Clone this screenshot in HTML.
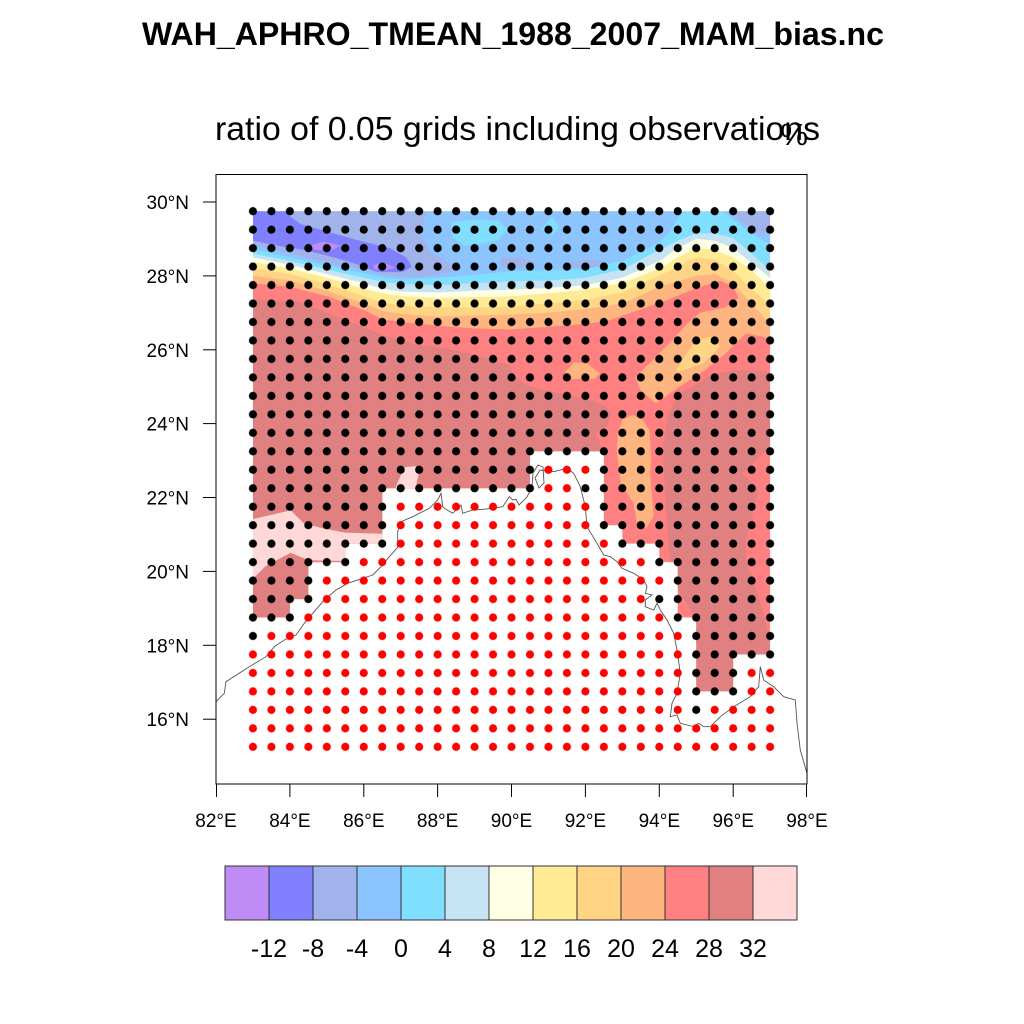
<!DOCTYPE html>
<html>
<head>
<meta charset="utf-8">
<style>
  html, body { margin: 0; padding: 0; background: #ffffff; }
  svg { display: block; }
  text { font-family: "Liberation Sans", Arial, sans-serif; fill: #000; }
</style>
</head>
<body>
<svg width="1024" height="1024" viewBox="0 0 1024 1024" xmlns="http://www.w3.org/2000/svg">
  <rect x="0" y="0" width="1024" height="1024" fill="#ffffff"/>
  <defs>
    <clipPath id="valid">
      <polygon points="0,0 28,0 28,24 26,24 26,26 24,26 24,22 23,22 23,19 22,19 22,18 20,18 20,17 19,17 19,13 15,13 15,15 7,15 7,18 5,18 5,19 3,19 3,21 2,21 2,22 0,22"/>
    </clipPath>
    <clipPath id="blk">
      <rect x="-0.5" y="-0.5" width="29" height="14"/>
      <rect x="-0.5" y="13.5" width="16" height="1"/><rect x="18.5" y="13.5" width="10" height="1"/>
      <rect x="-0.5" y="14.5" width="16" height="1"/><rect x="17.5" y="14.5" width="11" height="1"/>
      <rect x="-0.5" y="15.5" width="8" height="1"/><rect x="18.5" y="15.5" width="10" height="1"/>
      <rect x="-0.5" y="16.5" width="8" height="1"/><rect x="18.5" y="16.5" width="10" height="1"/>
      <rect x="-0.5" y="17.5" width="8" height="1"/><rect x="19.5" y="17.5" width="9" height="1"/>
      <rect x="-0.5" y="18.5" width="6" height="1"/><rect x="21.5" y="18.5" width="7" height="1"/>
      <rect x="-0.5" y="19.5" width="4" height="1"/><rect x="22.5" y="19.5" width="6" height="1"/>
      <rect x="-0.5" y="20.5" width="4" height="1"/><rect x="21.5" y="20.5" width="7" height="1"/>
      <rect x="-0.5" y="21.5" width="3" height="1"/><rect x="22.5" y="21.5" width="6" height="1"/>
      <rect x="-0.5" y="22.5" width="1" height="1"/><rect x="23.5" y="22.5" width="5" height="1"/>
      <rect x="23.5" y="23.5" width="5" height="1"/>
      <rect x="23.5" y="24.5" width="3" height="1"/>
      <rect x="23.5" y="25.5" width="3" height="1"/>
      <rect x="23.5" y="26.5" width="1" height="1"/>
    </clipPath>
    <clipPath id="red">
      <rect x="15.5" y="13.5" width="3" height="1"/>
      <rect x="15.5" y="14.5" width="2" height="1"/>
      <rect x="7.5" y="15.5" width="11" height="1"/>
      <rect x="7.5" y="16.5" width="11" height="1"/>
      <rect x="7.5" y="17.5" width="12" height="1"/>
      <rect x="5.5" y="18.5" width="16" height="1"/>
      <rect x="3.5" y="19.5" width="19" height="1"/>
      <rect x="3.5" y="20.5" width="18" height="1"/>
      <rect x="2.5" y="21.5" width="20" height="1"/>
      <rect x="0.5" y="22.5" width="23" height="1"/>
      <rect x="-0.5" y="23.5" width="24" height="1"/>
      <rect x="-0.5" y="24.5" width="24" height="1"/><rect x="26.5" y="24.5" width="2" height="1"/>
      <rect x="-0.5" y="25.5" width="24" height="1"/><rect x="26.5" y="25.5" width="2" height="1"/>
      <rect x="-0.5" y="26.5" width="24" height="1"/><rect x="24.5" y="26.5" width="4" height="1"/>
      <rect x="-0.5" y="27.5" width="29" height="1"/>
      <rect x="-0.5" y="28.5" width="29" height="1"/>
    </clipPath>
    <pattern id="pb" patternUnits="userSpaceOnUse" x="-0.5" y="-0.5" width="1" height="1">
      <circle cx="0.5" cy="0.5" r="0.22" fill="#000000"/>
    </pattern>
    <pattern id="pr" patternUnits="userSpaceOnUse" x="-0.5" y="-0.5" width="1" height="1">
      <circle cx="0.5" cy="0.5" r="0.22" fill="#ff0000"/>
    </pattern>
    <clipPath id="frame">
      <rect x="216" y="174" width="591" height="610"/>
    </clipPath>
  </defs>

  <!-- contour fill in grid coordinates -->
  <g transform="translate(252.94,211.2) scale(18.47)">
    <g clip-path="url(#valid)">
      <rect x="-1" y="-1" width="31" height="32" fill="#FF8080"/>
      <polygon fill="#E08080" points="-1,4.8 0,4.8 2.5,4.9 4.3,5.6 7,6.7 9.06,7.27 10.14,7.36 11.77,7.72 13.03,8.08 13.93,8.35 14.1,8.9 14.84,9.44 16.28,9.8 18.1,10.16 19.0,10.5 19.4,10.9 19.2,11.6 18.6,12.0 18.9,13.0 18.9,30 -1,30"/>
      <polygon fill="#E08080" points="23.1,9.9 24.9,8.8 26.3,8.6 28,8.7 29,8.7 29,12.6 28,12.75 26.5,14.2 27.4,15.1 26.7,17.8 26.7,18.9 27.4,20.9 28,23.2 29,23.4 29,30 24,30 24,22.1 22.9,20.3 22.5,18.3 22.3,15 22.2,12.7 22.5,10.9"/>
      <polygon fill="#FFD8D8" points="-1,16.67 0,16.67 2.04,16.2 2.76,16.9 3.9,17.2 5,17.4 8,17.5 8,19 3.05,18.9 2.04,18.5 0.7,19.2 0,19.9 -1,19.9"/>
      <polygon fill="#FFD8D8" points="7.7,15 8.2,13.86 8.8,13.8 9.0,14.1 8.8,15"/>
      <polygon fill="#FFB580" points="19.75,12.0 20.0,11.3 20.57,11.03 21.1,11.3 21.47,11.84 21.56,13.47 21.5,14.2 21.7,16.5 21.3,17.15 20.8,16.9 20.6,15.8 19.9,14.7 19.7,13"/>
      <polygon fill="#FFB580" points="16.9,8.7 17.4,8.17 18.1,8.26 18.8,8.8 18.45,9.08 17.0,9.08"/>
      <polygon fill="#FFB580" points="27.8,18.1 28.2,17.6 28.2,18.7"/>
      <polygon fill="#FFB580" points="-1,-1 -1,3.9 0,3.9 2,4.1 4,4.6 6,5.35 7,5.85 8,6.0 10,6.2 12,6.35 14,6.4 15.5,6.3 17.3,6.16 19.1,5.98 20.9,5.35 22.7,4.7 24,4.17 25.3,3.76 26,4.1 26.3,4.7 25.6,5.2 24.2,5.5 23.5,6.1 22.4,7.3 21.3,8.4 20.7,9.0 21.0,9.7 21.8,10.4 23.1,9.5 24.2,8.8 25.6,7.7 26.7,6.6 28,6.9 29,6.9 29,-1"/>
      <polygon fill="#FFD485" points="22.9,8.6 24.0,6.97 24.7,6.8 25.3,7.33 24.4,8.23 23.1,8.68"/>
      <polygon fill="#FFD485" points="-1,-1 -1,3.5 0,3.5 2,3.75 4,4.3 6,5.0 7,5.4 8,5.55 10,5.7 12,5.65 14,5.6 16,5.5 18,5.3 20,5.0 22,4.1 23,3.8 24,3.5 25,3.4 26,3.9 27,5.0 28,6.1 29,6.1 29,-1"/>
      <polygon fill="#FFEB96" points="-1,-1 -1,3.1 0,3.1 2,3.4 4,3.95 6,4.6 7,4.95 8,5.1 10,5.2 12,5.2 14,5.15 16,5.0 18,4.8 20,4.4 22,3.5 23,3.0 24,2.5 25,2.6 26,3.25 27,4.2 28,5.1 29,5.1 29,-1"/>
      <polygon fill="#FFFFE4" points="-1,-1 -1,2.75 0,2.75 2,3.1 4,3.6 6,4.2 7,4.45 8,4.6 10,4.7 12,4.65 14,4.6 16,4.45 18,4.25 20,3.9 22,3.1 23,2.5 24,2.0 25,2.1 26,2.5 27,3.2 28,4.2 29,4.2 29,-1"/>
      <polygon fill="#C6E3F4" points="-1,-1 -1,2.5 0,2.5 2,2.9 4,3.4 6,3.9 7,4.2 8,4.35 10,4.4 12,4.3 14,4.25 16,4.15 18,4.0 20,3.6 22,2.7 23,2.0 24,1.5 25,1.6 26,2.0 27,2.8 28,3.6 29,3.6 29,-1"/>
      <polygon fill="#80DEFF" points="-1,-1 -1,2.3 0,2.3 2,2.7 4,3.15 6,3.6 7,3.8 8,3.95 10,4.0 12,3.9 14,3.8 16,3.75 18,3.6 20,3.15 22,2.1 23,1.6 24,1.2 25,1.2 26,1.45 27,2.3 28,3.2 29,3.2 29,-1"/>
      <polygon fill="#8CC4FF" points="-1,-1 -1,2.05 0,2.05 2,2.5 4,2.95 6,3.35 7,3.6 8,3.7 10,3.6 12,3.45 14,3.25 16,3.2 18,3.15 20,2.7 22,1.7 22.5,1.2 23,0.4 23.3,-0.1 25.3,-0.1 26,0.45 27,1.2 28,1.8 29,1.8 29,-1"/>
      <polygon fill="#A0B4EB" points="-1,-1 9.4,-1 9.4,0 9.1,1.2 9.6,2.2 10.6,2.8 11.3,3.1 10.5,3.35 9,3.55 8,3.55 7,3.45 6,3.15 4,2.75 2,2.3 0,1.85 -1,1.85"/>
      <polygon fill="#8CC4FF" points="6.6,-0.1 7.2,-0.1 6.9,0.5"/>
      <polygon fill="#8080FF" points="-1,-1 1.9,-1 1.9,0.2 2.6,0.7 4.2,1.15 5.6,1.55 7.4,2.0 8.3,2.5 8.6,3.0 8.1,3.3 6.7,3.28 5.4,2.8 4.2,2.45 2.8,2.1 1.5,1.9 0,1.6 -1,1.6"/>
      <polygon fill="#BE8CF4" points="3.0,1.9 3.8,1.65 4.8,1.85 4.2,2.15 3.4,2.1"/>
      <polygon fill="#BE8CF4" points="6.5,2.95 7.0,2.75 7.7,3.05 7.2,3.2 6.6,3.15"/>
      <polygon fill="#80DEFF" points="10.7,0.6 12,0.45 13.3,0.5 13.8,1.0 13.2,1.6 11.5,1.9 10.8,1.4"/>
      <polygon fill="#80DEFF" points="15.6,1.0 16.2,0.3 16.6,0.9 16.2,1.3"/>
      <polygon fill="#80DEFF" points="20.8,-0.1 21.2,-0.1 21,0.3"/>
      <polygon fill="#A0B4EB" points="13.4,2.5 14.5,2.5 15.4,2.8 14.6,3.05 13.4,3.0"/>
      <polygon fill="#A0B4EB" points="16.9,2.8 18,2.6 19.1,2.7 18.5,3.05 17.2,3.0"/>
      <polygon fill="#A0B4EB" points="26,-1 29,-1 29,1.2 27.3,1.2 26.6,0.7 26,0.2"/>
    </g>
  </g>

  <g clip-path="url(#frame)">
    <path fill="none" stroke="#555555" stroke-width="0.9" d="M214,703 L216,701.7 L224.3,693.3 L226,681.7 L249.3,666.7 L266,656.7 L274.3,646.7 L284.3,640 L296,635 L304.3,623.3 L312.7,613.3 L324.3,600 L336,590 L347.7,583.3 L362.7,578.3 L372.7,575 L381,566.7 L389.3,556.7 L397.7,547.3 L397.7,531.7 L401,521.7 L412.7,516.7 L429.3,508.3 L437.7,500 L441,493.3 L442.7,506.7 L446,509.3 L452.7,513.3 L461,505 L462.7,513.3 L472.7,510 L482.7,509.3 L492.7,508.3 L502.7,506.7 L509.3,496.7 L512.7,500 L516,499.3 L519,505 L527,497 L532,487 L533,473 L538,465 L543,467 L544,483 L539,488 L535,478 L540,470 L553.7,471.7 L567,468.3 L573.7,473.3 L580.3,486.7 L585.3,506.7 L587,526.7 L597,543.3 L603.7,555 L610.3,556.7 L617,561.7 L622,568.3 L633.7,573.3 L643.7,580 L647,586.7 L645.3,593.3 L652,595 L645.3,600 L645.3,606.7 L653.7,610 L657,603.3 L660.3,610 L667,620 L673.7,633.3 L677,650 L680.3,673.3 L677,693.3 L672,703.3 L670.3,716.7 L677,715 L680.3,723.3 L693.7,726.7 L698.7,723.3 L703.7,726.7 L710.3,726.7 L720.3,716.7 L733.7,706.7 L750.3,696.7 L758.7,686.7 L760.3,666.7 L763.7,680 L773.7,686.7 L783.7,696.7 L795.3,700 L797,723.3 L800.3,750 L807,773.3 L809,780"/>
  </g>

  <g transform="translate(252.94,211.2) scale(18.47)">
    <rect x="-0.5" y="-0.5" width="29" height="30" fill="url(#pr)" clip-path="url(#red)"/>
    <rect x="-0.5" y="-0.5" width="29" height="30" fill="url(#pb)" clip-path="url(#blk)"/>
  </g>

  <rect x="216" y="174.5" width="591" height="609.5" fill="none" stroke="#000" stroke-width="1"/>

  <g stroke="#000" stroke-width="1">
    <line x1="203" y1="202" x2="216" y2="202"/>
    <line x1="203" y1="275.9" x2="216" y2="275.9"/>
    <line x1="203" y1="349.8" x2="216" y2="349.8"/>
    <line x1="203" y1="423.6" x2="216" y2="423.6"/>
    <line x1="203" y1="497.5" x2="216" y2="497.5"/>
    <line x1="203" y1="571.4" x2="216" y2="571.4"/>
    <line x1="203" y1="645.3" x2="216" y2="645.3"/>
    <line x1="203" y1="719.2" x2="216" y2="719.2"/>
    <line x1="216.5" y1="784" x2="216.5" y2="797"/>
    <line x1="289.9" y1="784" x2="289.9" y2="797"/>
    <line x1="363.8" y1="784" x2="363.8" y2="797"/>
    <line x1="437.6" y1="784" x2="437.6" y2="797"/>
    <line x1="511.5" y1="784" x2="511.5" y2="797"/>
    <line x1="585.4" y1="784" x2="585.4" y2="797"/>
    <line x1="659.3" y1="784" x2="659.3" y2="797"/>
    <line x1="733.2" y1="784" x2="733.2" y2="797"/>
    <line x1="806.5" y1="784" x2="806.5" y2="797"/>
  </g>

  <g font-size="19" text-anchor="end">
    <text x="189" y="209">30°N</text>
    <text x="189" y="282.9">28°N</text>
    <text x="189" y="356.8">26°N</text>
    <text x="189" y="430.6">24°N</text>
    <text x="189" y="504.5">22°N</text>
    <text x="189" y="578.4">20°N</text>
    <text x="189" y="652.3">18°N</text>
    <text x="189" y="726.2">16°N</text>
  </g>
  <g font-size="19" text-anchor="middle">
    <text x="216" y="827">82°E</text>
    <text x="289.9" y="827">84°E</text>
    <text x="363.8" y="827">86°E</text>
    <text x="437.6" y="827">88°E</text>
    <text x="511.5" y="827">90°E</text>
    <text x="585.4" y="827">92°E</text>
    <text x="659.3" y="827">94°E</text>
    <text x="733.2" y="827">96°E</text>
    <text x="807" y="827">98°E</text>
  </g>

  <text x="142" y="45" font-size="32" font-weight="bold" textLength="742" lengthAdjust="spacingAndGlyphs">WAH_APHRO_TMEAN_1988_2007_MAM_bias.nc</text>
  <text x="215" y="140" font-size="33" textLength="605" lengthAdjust="spacingAndGlyphs">ratio of 0.05 grids including observations</text>
  <text x="808" y="145" font-size="31" text-anchor="end">%</text>

  <g stroke="#333333" stroke-width="1">
    <rect x="225" y="866" width="44" height="54" fill="#BE8CF4"/>
    <rect x="269" y="866" width="44" height="54" fill="#8080FF"/>
    <rect x="313" y="866" width="44" height="54" fill="#A0B4EB"/>
    <rect x="357" y="866" width="44" height="54" fill="#8CC4FF"/>
    <rect x="401" y="866" width="44" height="54" fill="#80DEFF"/>
    <rect x="445" y="866" width="44" height="54" fill="#C6E3F4"/>
    <rect x="489" y="866" width="44" height="54" fill="#FFFFE4"/>
    <rect x="533" y="866" width="44" height="54" fill="#FFEB96"/>
    <rect x="577" y="866" width="44" height="54" fill="#FFD485"/>
    <rect x="621" y="866" width="44" height="54" fill="#FFB580"/>
    <rect x="665" y="866" width="44" height="54" fill="#FF8080"/>
    <rect x="709" y="866" width="44" height="54" fill="#E08080"/>
    <rect x="753" y="866" width="44" height="54" fill="#FFD8D8"/>
  </g>
  <g font-size="25" text-anchor="middle">
    <text x="269" y="957">-12</text>
    <text x="313" y="957">-8</text>
    <text x="357" y="957">-4</text>
    <text x="401" y="957">0</text>
    <text x="445" y="957">4</text>
    <text x="489" y="957">8</text>
    <text x="533" y="957">12</text>
    <text x="577" y="957">16</text>
    <text x="621" y="957">20</text>
    <text x="665" y="957">24</text>
    <text x="709" y="957">28</text>
    <text x="753" y="957">32</text>
  </g>
</svg>
</body>
</html>
